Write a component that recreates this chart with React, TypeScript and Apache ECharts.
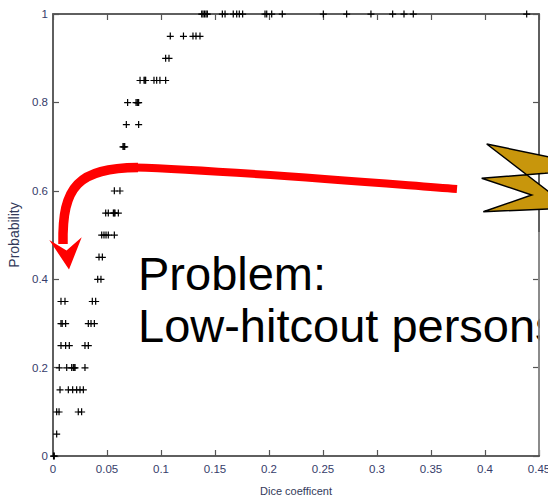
import React, { useEffect, useRef } from "react";
import * as echarts from "echarts";

// Probability levels (y) and the Dice coefficients (x) observed at each level
const probLevels = [0, 0.05, 0.1, 0.15, 0.2, 0.25, 0.3, 0.35, 0.4, 0.45, 0.5, 0.55, 0.6, 0.7, 0.75, 0.8, 0.85, 0.9, 0.95, 1];
const diceAtLevel: number[][] = [
  [0.0005, 0.0012],
  [0.0034],
  [0.0034, 0.0056, 0.0234, 0.0265],
  [0.0065, 0.0142, 0.0182, 0.0219, 0.025, 0.0281],
  [0.0058, 0.0127, 0.0173, 0.0188, 0.0196, 0.0204, 0.0296],
  [0.0074, 0.0117, 0.0151, 0.0296, 0.0327],
  [0.0074, 0.0085, 0.0117, 0.0327, 0.0352, 0.0383],
  [0.0074, 0.0111, 0.0364, 0.0395],
  [0.0414, 0.0444],
  [0.0426, 0.0457],
  [0.0451, 0.0472, 0.0491, 0.0512, 0.0568],
  [0.0488, 0.0512, 0.0559, 0.0567, 0.0574, 0.0605],
  [0.0568, 0.062],
  [0.0648, 0.0656, 0.0664],
  [0.0679, 0.0793],
  [0.0691, 0.0769, 0.078, 0.0787, 0.0793],
  [0.0806, 0.0843, 0.0851, 0.0858, 0.0935, 0.096, 0.099, 0.1043],
  [0.1043, 0.1074],
  [0.1086, 0.1208, 0.1296, 0.1324, 0.1361],
  [0.1377, 0.1389, 0.1403, 0.1417, 0.1429, 0.1568, 0.1593, 0.1669, 0.1701, 0.1725, 0.1756,
   0.1963, 0.1979, 0.2025, 0.2123, 0.2503, 0.2719, 0.2944, 0.3145, 0.325, 0.3336, 0.4386],
];

const xTitle = "Dice coefficent";
const yTitle = "Probability";
const noteLine1 = "Problem:";
const noteLine2 = "Low-hitcout persons";

const PLUS = "path://M0,3.1H7V4.3H0Z M2.9,0H4.1V7H2.9Z";
const sans = "'Liberation Sans', Arial, sans-serif";
const labelColor = "#363c6a";
const axisColor = "#555555";

const mkLine = () => ({ show: true, onZero: false, lineStyle: { color: axisColor, width: 1.5 } });
const mkTick = () => ({ show: true, inside: true, length: 6, lineStyle: { color: axisColor, width: 1.2 } });

export default function App() {
  const ref = useRef<HTMLDivElement>(null);
  useEffect(() => {
    document.body.style.margin = "0";
    document.body.style.overflow = "hidden";
    if (!ref.current) return;
    const chart = echarts.init(ref.current, undefined, { renderer: "svg" });
    const points: number[][] = [];
    probLevels.forEach((p, i) => diceAtLevel[i].forEach((d) => points.push([d, p])));

    chart.setOption({
      animation: false,
      backgroundColor: "#ffffff",
      grid: {
        left: 53, right: 9, top: 14, bottom: 42, containLabel: false, outerBoundsMode: "none",
        show: true, borderColor: axisColor, borderWidth: 1.5, backgroundColor: "transparent",
      },
      xAxis: [
        {
          type: "value", min: 0, max: 0.45, interval: 0.05, position: "bottom",
          axisLine: mkLine(), axisTick: mkTick(), splitLine: { show: false },
          axisLabel: { color: labelColor, fontFamily: sans, fontSize: 11.5, margin: 7, hideOverlap: false },
          name: xTitle, nameLocation: "middle", nameGap: 29,
          nameTextStyle: { color: "#333a5a", fontFamily: sans, fontSize: 11 },
        },
        {
          type: "value", min: 0, max: 0.45, interval: 0.05, position: "top",
          axisLine: mkLine(), axisTick: mkTick(), splitLine: { show: false }, axisLabel: { show: false },
        },
      ],
      yAxis: [
        {
          type: "value", min: 0, max: 1, interval: 0.2, position: "left",
          axisLine: mkLine(), axisTick: mkTick(), splitLine: { show: false },
          axisLabel: { color: labelColor, fontFamily: sans, fontSize: 11.5, margin: 5 },
          name: yTitle, nameLocation: "middle", nameGap: 31, nameRotate: 90,
          nameTextStyle: { color: "#333a5a", fontFamily: sans, fontSize: 14 },
        },
        {
          type: "value", min: 0, max: 1, interval: 0.2, position: "right",
          axisLine: mkLine(), axisTick: mkTick(), splitLine: { show: false }, axisLabel: { show: false },
        },
      ],
      series: [
        {
          type: "scatter",
          data: points,
          symbol: PLUS,
          symbolSize: 7,
          itemStyle: { color: "#000000", opacity: 1 },
          silent: true,
          clip: false,
          z: 5,
        },
      ],
      graphic: [
        {
          type: "text", x: 138, y: 250, z: 10,
          style: { text: noteLine1, fill: "#000", fontSize: 47, fontFamily: sans },
        },
        {
          type: "text", x: 138, y: 302, z: 10,
          style: { text: noteLine2, fill: "#000", fontSize: 47, fontFamily: sans },
        },
        { type: "rect", z: 11, shape: { x: 540, y: 296, width: 10, height: 66 }, style: { fill: "#ffffff" } },
        {
          type: "line", z: 12, shape: { x1: 539, y1: 232, x2: 539, y2: 455 },
          style: { stroke: "#9a9a9a", lineWidth: 1.5 },
        },
        {
          type: "bezierCurve", z: 12,
          shape: { x1: 457, y1: 189, cpx1: 340, cpy1: 180, cpx2: 220, cpy2: 170, x2: 135, y2: 167.5 },
          style: { stroke: "#ff0000", lineWidth: 8, fill: "none" },
        },
        {
          type: "bezierCurve", z: 12,
          shape: { x1: 138, y1: 167.5, cpx1: 78, cpy1: 168, cpx2: 62, cpy2: 186, x2: 63, y2: 244 },
          style: { stroke: "#ff0000", lineWidth: 9.5, fill: "none", lineCap: "butt" },
        },
        {
          type: "polygon", z: 12,
          shape: { points: [[49.3, 240], [69, 269.5], [81.7, 237.3], [66.5, 250.5]] },
          style: { fill: "#ff0000" },
        },
        {
          type: "polygon", z: 12,
          shape: {
            points: [[486.7, 144], [570, 161.2], [570, 170], [545, 173.3], [481.7, 178.3], [531.7, 195], [483.3, 211.7], [570, 208]],
          },
          style: { fill: "#c8960c", stroke: "#000000", lineWidth: 1.5 },
        },
      ],
    });
    return () => chart.dispose();
  }, []);
  return <div ref={ref} style={{ width: 548, height: 498, overflow: "hidden" }} />;
}
